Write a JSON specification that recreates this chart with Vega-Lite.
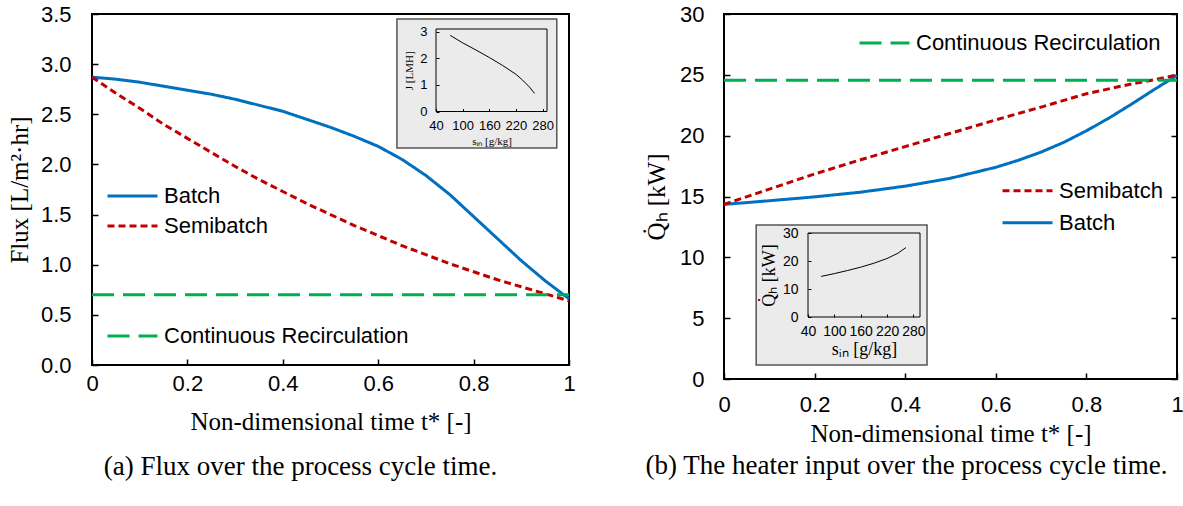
{
  "$schema": "https://vega.github.io/schema/vega-lite/v6.json",
  "background": "white",
  "padding": {"left": 6, "top": 2, "right": 5, "bottom": 5},
  "bounds": "flush",
  "spacing": 155,
  "config": {
    "view": {"stroke": "black", "strokeWidth": 2},
    "axis": {"grid": false, "domain": false, "labelFont": "Liberation Sans", "labelFontSize": 22, "labelColor": "black", "tickColor": "black", "tickWidth": 1.5, "titleFont": "Liberation Serif", "titleFontSize": 25, "titleFontWeight": "normal", "titleColor": "black", "labelOverlap": false, "zindex": 2},
    "legend": {"symbolType": "stroke", "symbolSize": 2500, "symbolStrokeWidth": 3, "labelFont": "Liberation Sans", "labelFontSize": 22, "labelColor": "black", "labelOffset": 5, "labelLimit": 400, "padding": 0, "rowPadding": 0, "clipHeight": 30, "orient": "none"}
  },
  "datasets": {
    "leftMain": [
      {"t": 0, "v": 2.87, "series": "Batch"}, {"t": 0.05, "v": 2.85, "series": "Batch"}, {"t": 0.1, "v": 2.82, "series": "Batch"}, {"t": 0.15, "v": 2.78, "series": "Batch"}, {"t": 0.2, "v": 2.74, "series": "Batch"}, {"t": 0.25, "v": 2.7, "series": "Batch"}, {"t": 0.3, "v": 2.65, "series": "Batch"}, {"t": 0.35, "v": 2.59, "series": "Batch"}, {"t": 0.4, "v": 2.53, "series": "Batch"}, {"t": 0.45, "v": 2.45, "series": "Batch"}, {"t": 0.5, "v": 2.37, "series": "Batch"}, {"t": 0.55, "v": 2.28, "series": "Batch"}, {"t": 0.6, "v": 2.18, "series": "Batch"}, {"t": 0.65, "v": 2.05, "series": "Batch"}, {"t": 0.7, "v": 1.89, "series": "Batch"}, {"t": 0.75, "v": 1.7, "series": "Batch"}, {"t": 0.8, "v": 1.48, "series": "Batch"}, {"t": 0.85, "v": 1.26, "series": "Batch"}, {"t": 0.9, "v": 1.04, "series": "Batch"}, {"t": 0.95, "v": 0.84, "series": "Batch"}, {"t": 1, "v": 0.66, "series": "Batch"},
      {"t": 0, "v": 2.87, "series": "Semibatch"}, {"t": 0.05, "v": 2.71, "series": "Semibatch"}, {"t": 0.1, "v": 2.56, "series": "Semibatch"}, {"t": 0.15, "v": 2.4, "series": "Semibatch"}, {"t": 0.2, "v": 2.26, "series": "Semibatch"}, {"t": 0.25, "v": 2.12, "series": "Semibatch"}, {"t": 0.3, "v": 1.98, "series": "Semibatch"}, {"t": 0.35, "v": 1.85, "series": "Semibatch"}, {"t": 0.4, "v": 1.73, "series": "Semibatch"}, {"t": 0.45, "v": 1.61, "series": "Semibatch"}, {"t": 0.5, "v": 1.5, "series": "Semibatch"}, {"t": 0.55, "v": 1.39, "series": "Semibatch"}, {"t": 0.6, "v": 1.29, "series": "Semibatch"}, {"t": 0.65, "v": 1.19, "series": "Semibatch"}, {"t": 0.7, "v": 1.1, "series": "Semibatch"}, {"t": 0.75, "v": 1.01, "series": "Semibatch"}, {"t": 0.8, "v": 0.93, "series": "Semibatch"}, {"t": 0.85, "v": 0.85, "series": "Semibatch"}, {"t": 0.9, "v": 0.78, "series": "Semibatch"}, {"t": 0.95, "v": 0.71, "series": "Semibatch"}, {"t": 1, "v": 0.64, "series": "Semibatch"}
    ],
    "leftCont": [
      {"t": 0, "v": 0.7, "series": "Continuous Recirculation"}, {"t": 1, "v": 0.7, "series": "Continuous Recirculation"}
    ],
    "leftInset": [
      {"s": 72, "j": 2.86}, {"s": 100, "j": 2.58}, {"s": 130, "j": 2.31}, {"s": 160, "j": 2.03}, {"s": 190, "j": 1.73}, {"s": 220, "j": 1.4}, {"s": 235, "j": 1.18}, {"s": 250, "j": 0.93}, {"s": 262, "j": 0.68}
    ],
    "rightMain": [
      {"t": 0, "v": 14.35, "series": "Batch"}, {"t": 0.1, "v": 14.65, "series": "Batch"}, {"t": 0.2, "v": 14.97, "series": "Batch"}, {"t": 0.3, "v": 15.35, "series": "Batch"}, {"t": 0.4, "v": 15.85, "series": "Batch"}, {"t": 0.5, "v": 16.5, "series": "Batch"}, {"t": 0.6, "v": 17.4, "series": "Batch"}, {"t": 0.65, "v": 17.98, "series": "Batch"}, {"t": 0.7, "v": 18.65, "series": "Batch"}, {"t": 0.75, "v": 19.45, "series": "Batch"}, {"t": 0.8, "v": 20.4, "series": "Batch"}, {"t": 0.85, "v": 21.45, "series": "Batch"}, {"t": 0.9, "v": 22.6, "series": "Batch"}, {"t": 0.95, "v": 23.8, "series": "Batch"}, {"t": 1, "v": 24.95, "series": "Batch"},
      {"t": 0, "v": 14.35, "series": "Semibatch"}, {"t": 0.1, "v": 15.6, "series": "Semibatch"}, {"t": 0.2, "v": 16.85, "series": "Semibatch"}, {"t": 0.3, "v": 18.0, "series": "Semibatch"}, {"t": 0.4, "v": 19.1, "series": "Semibatch"}, {"t": 0.5, "v": 20.2, "series": "Semibatch"}, {"t": 0.6, "v": 21.3, "series": "Semibatch"}, {"t": 0.7, "v": 22.35, "series": "Semibatch"}, {"t": 0.8, "v": 23.45, "series": "Semibatch"}, {"t": 0.9, "v": 24.25, "series": "Semibatch"}, {"t": 0.95, "v": 24.6, "series": "Semibatch"}, {"t": 1, "v": 24.98, "series": "Semibatch"}
    ],
    "rightCont": [
      {"t": 0, "v": 24.55, "series": "Continuous Recirculation"}, {"t": 1, "v": 24.55, "series": "Continuous Recirculation"}
    ],
    "rightInset": [
      {"s": 70, "q": 14.5}, {"s": 100, "q": 15.5}, {"s": 130, "q": 16.6}, {"s": 160, "q": 17.8}, {"s": 190, "q": 19.2}, {"s": 220, "q": 20.9}, {"s": 245, "q": 22.8}, {"s": 263, "q": 24.8}
    ]
  },
  "hconcat": [
    {
      "width": 477,
      "height": 351,
      "title": {"text": "(a) Flux over the process cycle time.", "orient": "bottom", "anchor": "middle", "font": "Liberation Serif", "fontSize": 27, "fontWeight": "normal", "color": "black", "offset": 20, "dx": -30},
      "layer": [
        {
          "layer": [
            {
              "data": {"name": "leftMain"},
              "mark": {"type": "line", "strokeWidth": 3},
              "encoding": {
                "x": {"field": "t", "type": "quantitative", "scale": {"domain": [0, 1], "nice": false}, "axis": {"title": "Non-dimensional time t* [-]", "values": [0, 0.2, 0.4, 0.6, 0.8, 1], "format": "~g", "labelFlush": false, "tickSize": -6, "labelPadding": 14, "titlePadding": 15}},
                "y": {"field": "v", "type": "quantitative", "scale": {"domain": [0, 3.5], "nice": false}, "axis": {"title": "Flux [L/m²·hr]", "values": [0, 0.5, 1, 1.5, 2, 2.5, 3, 3.5], "format": ".1f", "tickSize": -6, "labelPadding": 27, "titlePadding": 8}},
                "color": {"field": "series", "type": "nominal", "scale": {"domain": ["Batch", "Semibatch"], "range": ["#0070C0", "#C00000"]}, "legend": {"title": null, "orient": "none", "legendX": 14, "legendY": 167}},
                "strokeDash": {"field": "series", "type": "nominal", "scale": {"domain": ["Batch", "Semibatch"], "range": [[1, 0], [7, 4]]}, "legend": {"title": null, "orient": "none", "legendX": 14, "legendY": 167}}
              }
            },
            {
              "data": {"name": "leftCont"},
              "mark": {"type": "line", "strokeWidth": 3, "strokeDash": [22, 9]},
              "encoding": {
                "x": {"field": "t", "type": "quantitative"},
                "y": {"field": "v", "type": "quantitative"},
                "color": {"field": "series", "type": "nominal", "scale": {"domain": ["Continuous Recirculation"], "range": ["#00B050"]}, "legend": {"title": null, "orient": "none", "legendX": 14, "legendY": 307, "symbolDash": [22, 9]}}
              }
            }
          ],
          "resolve": {"scale": {"color": "independent", "strokeDash": "independent"}}
        },
        {
          "layer": [
            {
              "data": {"values": [{}]},
              "mark": {"type": "rect", "fill": "#ebebeb", "stroke": "#555555", "strokeWidth": 1.5},
              "encoding": {
                "x": {"datum": -48, "type": "quantitative", "scale": {"domain": [40, 290], "range": [344, 455], "nice": false, "zero": false}, "axis": {"orient": "bottom", "offset": -253.5, "values": [40, 100, 160, 220, 280], "format": "d", "labelFontSize": 13, "labelPadding": 11, "tickSize": -3, "tickWidth": 1, "labelFlush": false, "title": "sᵢₙ [g/kg]", "titleFontSize": 11, "titlePadding": 3, "minExtent": 0, "zindex": 3}},
                "x2": {"datum": 312},
                "y": {"datum": 3.48, "type": "quantitative", "scale": {"domain": [0, 3.1], "range": [97.5, 15], "nice": false, "zero": false}, "axis": {"orient": "left", "offset": -344, "values": [0, 1, 2, 3], "format": "d", "labelFontSize": 13, "labelPadding": 12, "tickSize": -3, "tickWidth": 1, "title": "J [LMH]", "titleFontSize": 11, "titlePadding": 5, "minExtent": 0, "zindex": 3}},
                "y2": {"datum": -1.37}
              }
            },
            {
              "data": {"values": [{}]},
              "mark": {"type": "rect", "fillOpacity": 0, "stroke": "black", "strokeWidth": 1},
              "encoding": {
                "x": {"datum": 40, "type": "quantitative", "scale": {"domain": [40, 290], "range": [344, 455], "nice": false, "zero": false}},
                "x2": {"datum": 290},
                "y": {"datum": 0, "type": "quantitative", "scale": {"domain": [0, 3.1], "range": [97.5, 15], "nice": false, "zero": false}},
                "y2": {"datum": 3.1}
              }
            },
            {
              "data": {"name": "leftInset"},
              "mark": {"type": "line", "color": "black", "strokeWidth": 1},
              "encoding": {
                "x": {"field": "s", "type": "quantitative", "scale": {"domain": [40, 290], "range": [344, 455], "nice": false, "zero": false}, "axis": {"orient": "bottom", "offset": -253.5, "values": [40, 100, 160, 220, 280], "format": "d", "labelFontSize": 13, "labelPadding": 11, "tickSize": -3, "tickWidth": 1, "labelFlush": false, "title": "sᵢₙ [g/kg]", "titleFontSize": 11, "titlePadding": 3, "minExtent": 0, "zindex": 3}},
                "y": {"field": "j", "type": "quantitative", "scale": {"domain": [0, 3.1], "range": [97.5, 15], "nice": false, "zero": false}, "axis": {"orient": "left", "offset": -344, "values": [0, 1, 2, 3], "format": "d", "labelFontSize": 13, "labelPadding": 12, "tickSize": -3, "tickWidth": 1, "title": "J [LMH]", "titleFontSize": 11, "titlePadding": 5, "minExtent": 0, "zindex": 3}}
              }
            }
          ]
        }
      ],
      "resolve": {"scale": {"x": "independent", "y": "independent"}, "axis": {"x": "independent", "y": "independent"}}
    },
    {
      "width": 453,
      "height": 365,
      "title": {"text": "(b) The heater input over the process cycle time.", "orient": "bottom", "anchor": "middle", "font": "Liberation Serif", "fontSize": 27, "fontWeight": "normal", "color": "black", "offset": 7, "dx": -44},
      "layer": [
        {
          "layer": [
            {
              "data": {"name": "rightMain"},
              "mark": {"type": "line", "strokeWidth": 3},
              "encoding": {
                "x": {"field": "t", "type": "quantitative", "scale": {"domain": [0, 1], "nice": false}, "axis": {"title": "Non-dimensional time t* [-]", "values": [0, 0.2, 0.4, 0.6, 0.8, 1], "format": "~g", "labelFlush": false, "tickSize": -6, "labelPadding": 21, "titlePadding": 6}},
                "y": {"field": "v", "type": "quantitative", "scale": {"domain": [0, 30], "nice": false}, "axis": {"title": "Q̇ₕ  [kW]", "values": [0, 5, 10, 15, 20, 25, 30], "format": "d", "tickSize": -6, "labelPadding": 26, "titlePadding": 10}},
                "color": {"field": "series", "type": "nominal", "scale": {"domain": ["Semibatch", "Batch"], "range": ["#C00000", "#0070C0"]}, "legend": {"title": null, "orient": "none", "legendX": 277, "legendY": 161, "clipHeight": 31.7}},
                "strokeDash": {"field": "series", "type": "nominal", "scale": {"domain": ["Semibatch", "Batch"], "range": [[7, 4], [1, 0]]}, "legend": {"title": null, "orient": "none", "legendX": 277, "legendY": 161, "clipHeight": 31.7}}
              }
            },
            {
              "data": {"name": "rightCont"},
              "mark": {"type": "line", "strokeWidth": 3, "strokeDash": [22, 9]},
              "encoding": {
                "x": {"field": "t", "type": "quantitative"},
                "y": {"field": "v", "type": "quantitative", "axis": {"orient": "right", "values": [0, 5, 10, 15, 20, 25, 30], "labels": false, "title": null, "tickSize": -6}},
                "color": {"field": "series", "type": "nominal", "scale": {"domain": ["Continuous Recirculation"], "range": ["#00B050"]}, "legend": {"title": null, "orient": "none", "legendX": 134, "legendY": 14, "symbolDash": [22, 9]}}
              }
            }
          ],
          "resolve": {"scale": {"color": "independent", "strokeDash": "independent"}, "axis": {"y": "independent"}}
        },
        {
          "layer": [
            {
              "data": {"values": [{}]},
              "mark": {"type": "rect", "fill": "#ebebeb", "stroke": "#555555", "strokeWidth": 1.5},
              "encoding": {
                "x": {"datum": -78, "type": "quantitative", "scale": {"domain": [40, 295], "range": [84, 196], "nice": false, "zero": false}, "axis": {"orient": "bottom", "offset": -62, "values": [40, 100, 160, 220, 280], "format": "d", "labelFontSize": 14, "labelPadding": 10, "tickSize": -3, "tickWidth": 1, "labelFlush": false, "title": "sᵢₙ [g/kg]", "titleFontSize": 18, "titlePadding": 2, "minExtent": 0, "zindex": 3}},
                "x2": {"datum": 311},
                "y": {"datum": 32.9, "type": "quantitative", "scale": {"domain": [0, 30], "range": [303, 219], "nice": false, "zero": false}, "axis": {"orient": "left", "offset": -84, "values": [0, 10, 20, 30], "format": "d", "labelFontSize": 14, "labelPadding": 13, "tickSize": -3, "tickWidth": 1, "title": "Q̇ₕ [kW]", "titleFontSize": 18, "titlePadding": 4, "minExtent": 0, "zindex": 3}},
                "y2": {"datum": -17.1}
              }
            },
            {
              "data": {"values": [{}]},
              "mark": {"type": "rect", "fillOpacity": 0, "stroke": "black", "strokeWidth": 1},
              "encoding": {
                "x": {"datum": 40, "type": "quantitative", "scale": {"domain": [40, 295], "range": [84, 196], "nice": false, "zero": false}},
                "x2": {"datum": 295},
                "y": {"datum": 0, "type": "quantitative", "scale": {"domain": [0, 30], "range": [303, 219], "nice": false, "zero": false}},
                "y2": {"datum": 30}
              }
            },
            {
              "data": {"name": "rightInset"},
              "mark": {"type": "line", "color": "black", "strokeWidth": 1},
              "encoding": {
                "x": {"field": "s", "type": "quantitative", "scale": {"domain": [40, 295], "range": [84, 196], "nice": false, "zero": false}, "axis": {"orient": "bottom", "offset": -62, "values": [40, 100, 160, 220, 280], "format": "d", "labelFontSize": 14, "labelPadding": 10, "tickSize": -3, "tickWidth": 1, "labelFlush": false, "title": "sᵢₙ [g/kg]", "titleFontSize": 18, "titlePadding": 2, "minExtent": 0, "zindex": 3}},
                "y": {"field": "q", "type": "quantitative", "scale": {"domain": [0, 30], "range": [303, 219], "nice": false, "zero": false}, "axis": {"orient": "left", "offset": -84, "values": [0, 10, 20, 30], "format": "d", "labelFontSize": 14, "labelPadding": 13, "tickSize": -3, "tickWidth": 1, "title": "Q̇ₕ [kW]", "titleFontSize": 18, "titlePadding": 4, "minExtent": 0, "zindex": 3}}
              }
            }
          ]
        }
      ],
      "resolve": {"scale": {"x": "independent", "y": "independent"}, "axis": {"x": "independent", "y": "independent"}}
    }
  ]
}
